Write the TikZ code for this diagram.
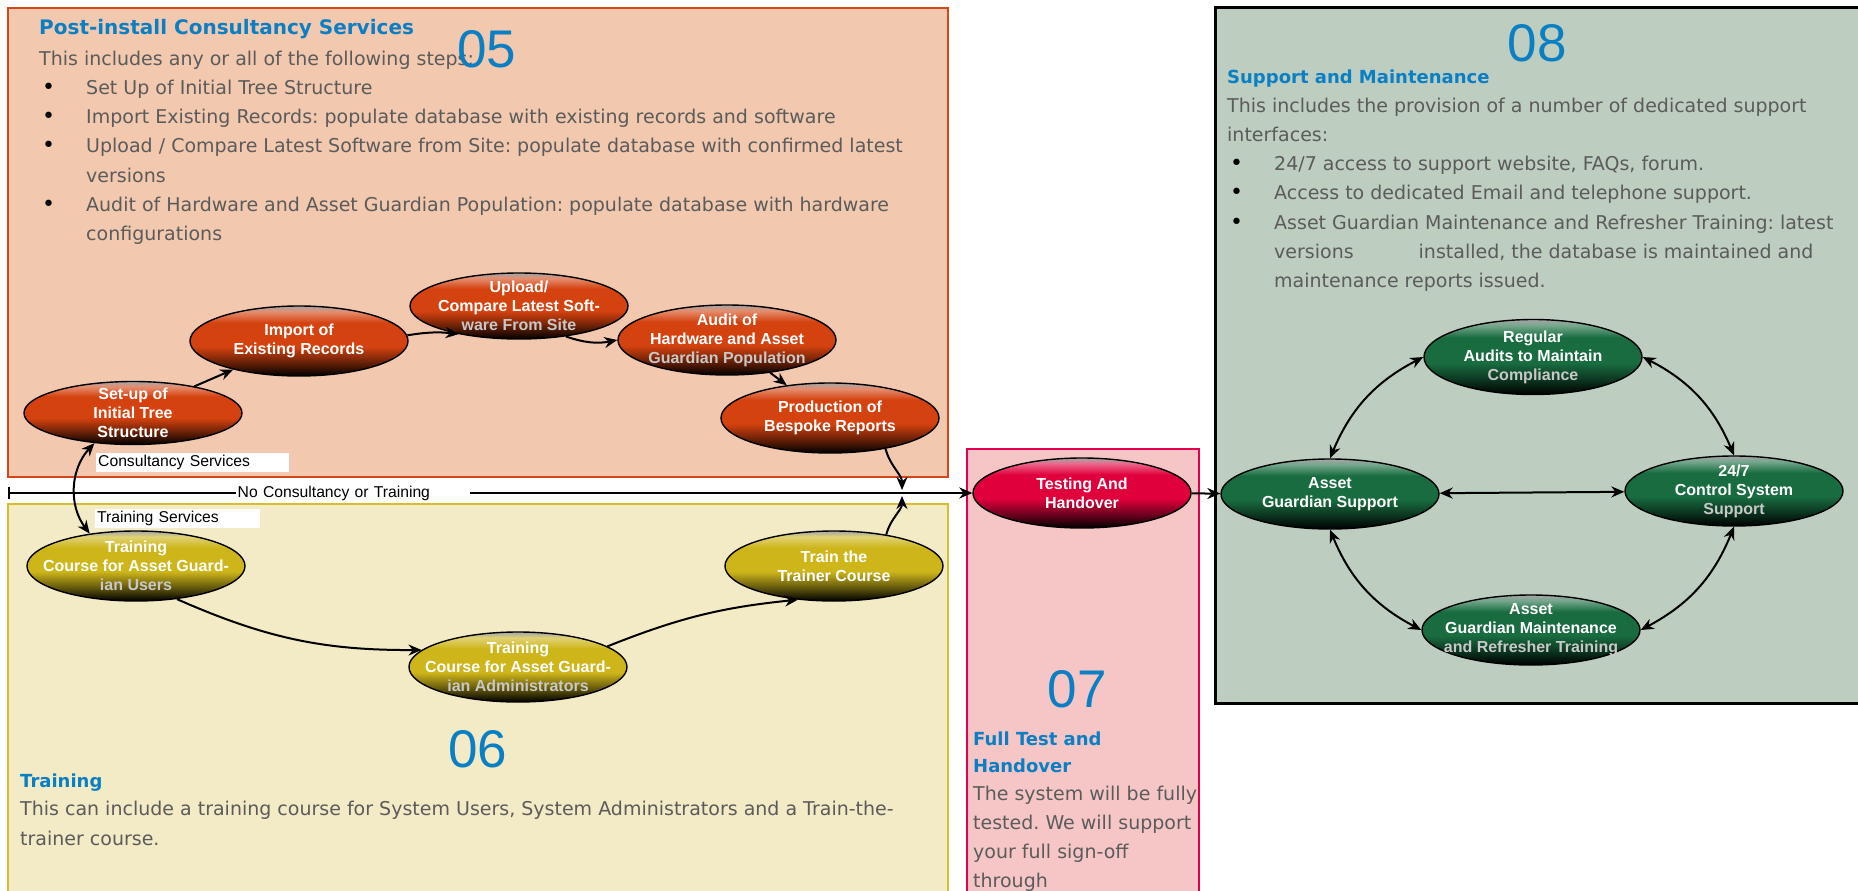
\documentclass[tikz,border=0pt]{standalone}
\usepackage{fontspec}
\setmainfont{Liberation Sans}
\newfontfamily\wideface{DejaVu Sans}
\usetikzlibrary{shapes.geometric, arrows.meta, positioning}
\frenchspacing

\definecolor{consultfill}{HTML}{F2C8AE}
\definecolor{consultline}{HTML}{D4461B}
\definecolor{trainfill}{HTML}{F3EAC6}
\definecolor{trainline}{HTML}{D8BE2C}
\definecolor{testfill}{HTML}{F6C6C7}
\definecolor{testline}{HTML}{E3004F}
\definecolor{supportfill}{HTML}{BDCDBF}
\definecolor{headblue}{HTML}{0A7FC4}
\definecolor{bodygray}{HTML}{5B5B5B}
\definecolor{orangeball}{HTML}{D4420F}
\definecolor{yellowball}{HTML}{CDB51A}
\definecolor{redball}{HTML}{E0003C}
\definecolor{greenball}{HTML}{186C40}
\definecolor{fadetext}{HTML}{C8C8C8}

% glossy fill for the bubbles
\newcommand{\declareglow}[2]{%
  \pgfdeclareverticalshading{#1}{100bp}{color(0bp)=(black); color(25bp)=(black);
    color(34bp)=(#2!45!black); color(46bp)=(#2); color(63bp)=(#2);
    color(71bp)=(#2!60!white); color(75bp)=(gray!70!white); color(100bp)=(gray!70!white)}}
\declareglow{orangeglow}{orangeball}
\declareglow{yellowglow}{yellowball}
\declareglow{redglow}{redball}
\declareglow{greenglow}{greenball}

\newcommand{\bitem}{\makebox[47pt][l]{\hspace*{3pt}\textcolor{black}{\fontsize{22}{22}\selectfont\textbullet}}}
\newcommand{\bcont}{\hspace*{47pt}}

\begin{document}
\begin{tikzpicture}[x=1pt, y=1pt,
    ball/.style={ellipse, shade, draw=black, line width=1.4pt, inner sep=0pt,
      minimum width=218pt, minimum height=70pt},
    balltext/.style={text=white, align=center, font=\bfseries\fontsize{16}{19}\selectfont},
    consult/.style={ball, shading=orangeglow},
    train/.style={ball, shading=yellowglow},
    handover/.style={ball, shading=redglow},
    maint/.style={ball, shading=greenglow},
    stepno/.style={text=headblue, inner sep=0pt, anchor=base, font=\fontsize{53}{53}\selectfont},
    heading/.style={text=headblue, inner sep=0pt, font=\wideface\bfseries\fontsize{18}{27}\selectfont},
    bodytext/.style={text=bodygray, inner sep=0pt, align=left, font=\wideface\fontsize{19}{29.2}\selectfont},
    routelabel/.style={fill=white, inner xsep=2pt, inner ysep=1pt, align=left, font=\fontsize{15.7}{17}\selectfont},
    flow/.style={-{Stealth[length=13pt, width=11pt]}, line width=2pt},
    twoway/.style={{Stealth[length=13pt, width=11pt]}-{Stealth[length=13pt, width=11pt]}, line width=2pt}]

  \useasboundingbox (0,0) rectangle (1858,-891);

  % panels
  \filldraw [draw=consultline, fill=consultfill, line width=2pt] (8,-8) rectangle (948,-477);
  \filldraw [draw=trainline, fill=trainfill, line width=2pt] (8,-504) rectangle (948,-905);
  \filldraw [draw=testline, fill=testfill, line width=2pt] (967,-449) rectangle (1199,-905);
  \filldraw [draw=black, fill=supportfill, line width=3pt] (1215,-8) rectangle (1875,-703);

  % 05
  \node (consulthead) [heading, font=\wideface\bfseries\fontsize{20}{27}\selectfont, anchor=base west] at (39,-35) {Post-install Consultancy Services};
  \node (consultbody) [bodytext, below=15.6pt of consulthead.base west, anchor=north west] {This includes any or all of the following steps:\\
    \bitem Set Up of Initial Tree Structure\\
    \bitem Import Existing Records: populate database with existing records and software\\
    \bitem Upload / Compare Latest Software from Site: populate database with confirmed latest\\
    \bcont versions\\
    \bitem Audit of Hardware and Asset Guardian Population: populate database with hardware\\
    \bcont configurations};
  \node (no05) [stepno] at (487,-68) {05};

  % 06
  \node (no06) [stepno] at (478,-767) {06};
  \node (trainhead) [heading, anchor=base west] at (20,-787) {Training};
  \node (trainbody) [bodytext, font=\wideface\fontsize{19}{30}\selectfont, below=13.6pt of trainhead.base west, anchor=north west] {This can include a training course for System Users, System Administrators and a Train-the-\\
    trainer course.};

  % 07
  \node (no07) [stepno] at (1077,-707) {07};
  \node (testhead) [heading, align=left, anchor=north west] at (973,-731.3) {Full Test and\\Handover};
  \node (testbody) [bodytext, anchor=north west] at (973,-785.6) {The system will be fully\\
    tested. We will support\\
    your full sign-off\\
    through};

  % 08
  \node (no08) [stepno] at (1537,-62) {08};
  \node (supporthead) [heading, anchor=base west] at (1227,-83) {Support and Maintenance};
  \node (supportbody) [bodytext, below=14.6pt of supporthead.base west, anchor=north west] {This includes the provision of a number of dedicated support\\
    interfaces:\\
    \bitem 24/7 access to support website, FAQs, forum.\\
    \bitem Access to dedicated Email and telephone support.\\
    \bitem Asset Guardian Maintenance and Refresher Training: latest\\
    \bcont versions\hspace{65pt}installed, the database is maintained and\\
    \bcont maintenance reports issued.};

  % bubbles
  \node (setup) [consult, minimum height=63pt, label={[balltext]center:{Set-up of\\Initial Tree\\Structure}}] at (133,-413) {};
  \node (import) [consult, label={[balltext]center:{Import of\\Existing Records}}] at (299,-341) {};
  \node (upload) [consult, minimum height=66pt, label={[balltext]center:{Upload/\\Compare Latest Soft-\\\textcolor{fadetext}{ware From Site}}}] at (519,-306) {};
  \node (audit) [consult, label={[balltext]center:{Audit of\\Hardware and Asset\\\textcolor{fadetext}{Guardian Population}}}] at (727,-340) {};
  \node (production) [consult, label={[balltext]center:{Production of\\Bespoke Reports}}] at (830,-418) {};

  \node (users) [train, label={[balltext]center:{Training\\Course for Asset Guard-\\\textcolor{fadetext}{ian Users}}}] at (136,-566) {};
  \node (admins) [train, label={[balltext]center:{Training\\Course for Asset Guard-\\\textcolor{fadetext}{ian Administrators}}}] at (518,-667) {};
  \node (trainer) [train, label={[balltext]center:{Train the\\Trainer Course}}] at (834,-566) {};

  \node (testing) [handover, label={[balltext]center:{Testing And\\Handover}}] at (1082,-493) {};

  \node (support) [maint, label={[balltext]center:{Asset\\Guardian Support}}] at (1330,-494) {};
  \node (regular) [maint, minimum height=75pt, label={[balltext]center:{Regular\\Audits to Maintain\\\textcolor{fadetext}{Compliance}}}] at (1533,-357) {};
  \node (control) [maint, label={[balltext]center:{24/7\\Control System\\\textcolor{fadetext}{Support}}}] at (1734,-491) {};
  \node (maintenance) [maint, label={[balltext]center:{Asset\\Guardian Maintenance\\\textcolor{fadetext}{and Refresher Training}}}] at (1531,-630) {};

  % route labels
  \node (consultlbl) [routelabel, text width=189pt, minimum height=19pt, anchor=north west] at (96,-453) {Consultancy Services};
  \node (trainlbl) [routelabel, text width=161pt, minimum height=19pt, below=36pt of consultlbl.south west, anchor=north west, xshift=-1pt] {Training Services};

  \coordinate (start) at (8,-493);
  \coordinate (merge) at (902,-493);

  \draw [{Bar[width=12pt]}-{Stealth[length=13pt, width=11pt]}, line width=2pt] (start) -- node [routelabel, pos=0.3575, text width=230pt] {No Consultancy or Training} (testing);

  \path [flow]
    (setup) edge (import)
    (import.3) edge [bend left=8] (upload.205)
    (upload.-33) edge [bend right=15] (audit.180)
    (audit) edge (production)
    (production.-29) edge [out=-75, in=90, shorten >=3pt] (merge)
    (users.-39) edge [bend right=12] (admins.170)
    (admins.13) edge [bend left=8] (trainer.223)
    (trainer.31) edge [out=75, in=-90, shorten >=3pt] (merge)
    (testing) edge (support);

  \path [twoway]
    (setup.218) edge [bend right=40] (users.145)
    (support.north) edge [bend left=20] (regular.west)
    (regular.east) edge [bend left=20] (control.north)
    (support) edge (control)
    (support.south) edge [bend right=20] (maintenance.west)
    (control.south) edge [bend left=20] (maintenance.east);
\end{tikzpicture}
\end{document}
